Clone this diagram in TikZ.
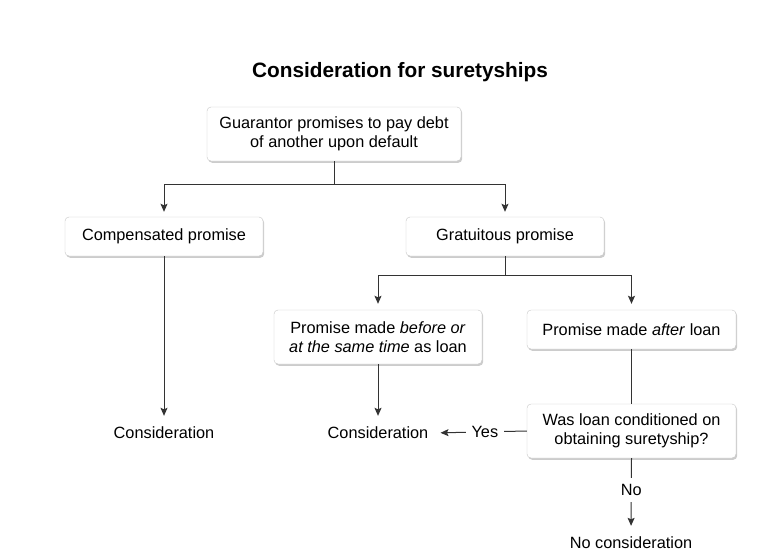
\documentclass[tikz,border=0pt]{standalone}
\usepackage{fontspec}
\setmainfont{Liberation Sans}
\usepackage{xcolor}
\usetikzlibrary{arrows.meta,shadows}

\begin{document}
\begin{tikzpicture}[x=1pt,y=-1pt,
  box/.style={draw=black!22,fill=white,rounded corners=4pt,align=center,
    inner sep=0pt,font=\fontsize{16.3}{19.5}\selectfont,
    drop shadow={shadow xshift=1.2pt,shadow yshift=-1.8pt,fill=black!40}},
  txt/.style={font=\fontsize{16.3}{19.5}\selectfont,inner sep=3pt},
  conn/.style={line width=1pt,draw=black!80},
  arr/.style={conn,-{Stealth[length=8pt,width=7pt,inset=1.5pt]}}]
  \useasboundingbox (0,0) rectangle (765,552);
  % title
  \node (title) at (400,72) {\fontsize{20.8}{25}\selectfont\bfseries Consideration for suretyships};
  % boxes
  \node[box,minimum width=254pt,minimum height=54pt] (guar) at (334,134)
    {Guarantor promises to pay debt\\of another upon default};
  \node[box,minimum width=198pt,minimum height=39pt] (comp) at (164,236.5) {Compensated promise};
  \node[box,minimum width=198pt,minimum height=39pt] (grat) at (505,236.5) {Gratuitous promise};
  \node[box,minimum width=208pt,minimum height=54pt] (before) at (378,337)
    {Promise made \textit{before or}\\\textit{at the same time} as loan};
  \node[box,minimum width=209pt,minimum height=39pt] (after) at (631.5,329.5)
    {Promise made \textit{after} loan};
  \node[box,minimum width=209pt,minimum height=54pt] (loan) at (631.5,431)
    {Was loan conditioned on\\obtaining suretyship?};
  % outcomes
  \node[txt] (cons1) at (164,433) {Consideration};
  \node[txt] (cons2) at (378,433) {Consideration};
  \node[txt] (nocons) at (631,543) {No consideration};
  % connectors
  \coordinate (split1) at (334,184);
  \coordinate (split2) at (505,275);
  \draw[conn] (guar.south) -- (split1);
  \draw[arr,shorten >=5pt] (split1) -| (comp.north);
  \draw[arr,shorten >=5pt] (split1) -| (grat.north);
  \draw[conn] (grat.south) -- (split2);
  \draw[arr,shorten >=6pt] (split2) -| (before.north);
  \draw[arr,shorten >=6pt] (split2) -| (after.north);
  \draw[arr,shorten >=8pt] (comp.south) -- (cons1.north);
  \draw[arr,shorten >=8pt] (before.south) -- (cons2.north);
  \draw[conn] (after.south) -- (loan.north);
  \draw[arr,shorten >=9pt] (loan.west) -- (cons2.east)
    node[pos=0.44,txt,fill=white,inner xsep=6pt] (yes) {Yes};
  \draw[arr,shorten >=8pt] (loan.south) -- (nocons.north)
    node[pos=0.42,txt,fill=white,inner ysep=6pt] (no) {No};
\end{tikzpicture}
\end{document}
